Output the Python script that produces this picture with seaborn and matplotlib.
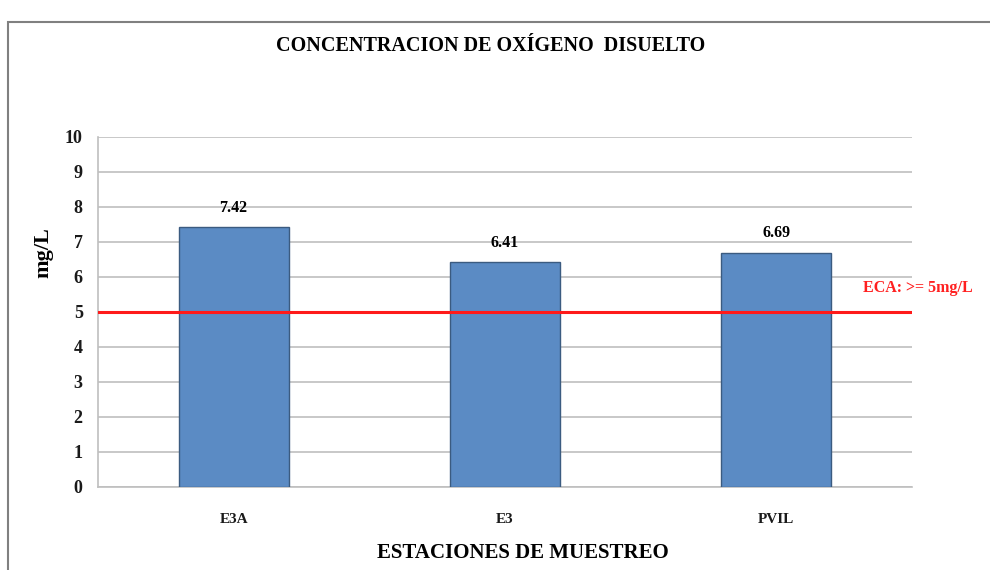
import pandas as pd
import seaborn as sns
import matplotlib.pyplot as plt
from matplotlib.patches import Rectangle

estaciones = ["E3A", "E3", "PVIL"]
oxigeno = [7.42, 6.41, 6.69]
eca_limite = 5
eca_texto = "ECA: >= 5mg/L"

df = pd.DataFrame({"estacion": estaciones, "od": oxigeno})

sns.set_style("white")
plt.rcParams["font.family"] = ["Liberation Serif", "DejaVu Serif"]
plt.rcParams["text.color"] = "black"
plt.rcParams["xtick.labelcolor"] = "#1A1A1A"
plt.rcParams["ytick.labelcolor"] = "#1A1A1A"
plt.rcParams["axes.labelcolor"] = "black"

fig = plt.figure(figsize=(9.9, 5.7), dpi=100)
ax = fig.add_axes([0.099, 0.146, 0.822, 0.614])

# marco exterior
fig.patches.append(Rectangle((8 / 990, -0.1), 1.2, 1 - 22 / 570 + 0.1, transform=fig.transFigure,
                             fill=False, edgecolor="#808080", linewidth=1.5))

sns.barplot(data=df, x="estacion", y="od", color="#5B8BC4", edgecolor="#3B5B80",
            linewidth=1.0, width=0.405, saturation=1, ax=ax, zorder=3)

ax.set_ylim(0, 10)
ax.set_xlim(-0.5, 2.5)
ax.set_yticks(range(0, 11))
ax.yaxis.grid(True, color="#BFBFBF", linewidth=1.2, zorder=0)
ax.set_axisbelow(True)
for s in ["top", "right"]:
    ax.spines[s].set_visible(False)
ax.spines["left"].set_color("#BFBFBF")
ax.spines["bottom"].set_color("#BFBFBF")
ax.spines["left"].set_linewidth(1.2)
ax.spines["bottom"].set_linewidth(1.2)

ax.set_xticks([-0.5, 0.5, 1.5, 2.5], minor=True)
ax.tick_params(axis="x", which="major", length=0, pad=19, labelsize=11)
ax.tick_params(axis="x", which="minor", length=5, color="#BFBFBF", width=1.2)
ax.tick_params(axis="y", length=5, color="#BFBFBF", width=1.2, labelsize=13, pad=6)
for lab in ax.get_xticklabels() + ax.get_yticklabels():
    lab.set_fontweight("bold")

ax.axhline(eca_limite, color="#FF1A1A", linewidth=2.2, zorder=4)
ax.text(0.94, 0.567, eca_texto, transform=ax.transAxes, color="#FF2020",
        fontsize=11.5, fontweight="bold", ha="left", va="center")

for i, v in enumerate(oxigeno):
    ax.text(i, v + 0.32, f"{v:.2f}", ha="center", va="bottom", fontsize=11.5, fontweight="bold")

ax.set_xlabel("")
ax.set_ylabel("mg/L", fontsize=16, fontweight="bold")
ax.yaxis.set_label_coords(-0.055, 0.67)
fig.text(523 / 990, 1 - 553 / 570, "ESTACIONES DE MUESTREO", ha="center", va="center",
         fontsize=15, fontweight="bold")
fig.text(491 / 990, 1 - 46 / 570, "CONCENTRACION DE OXÍGENO  DISUELTO", ha="center", va="center",
         fontsize=14.5, fontweight="bold")

fig.savefig("out.png", dpi=100)
